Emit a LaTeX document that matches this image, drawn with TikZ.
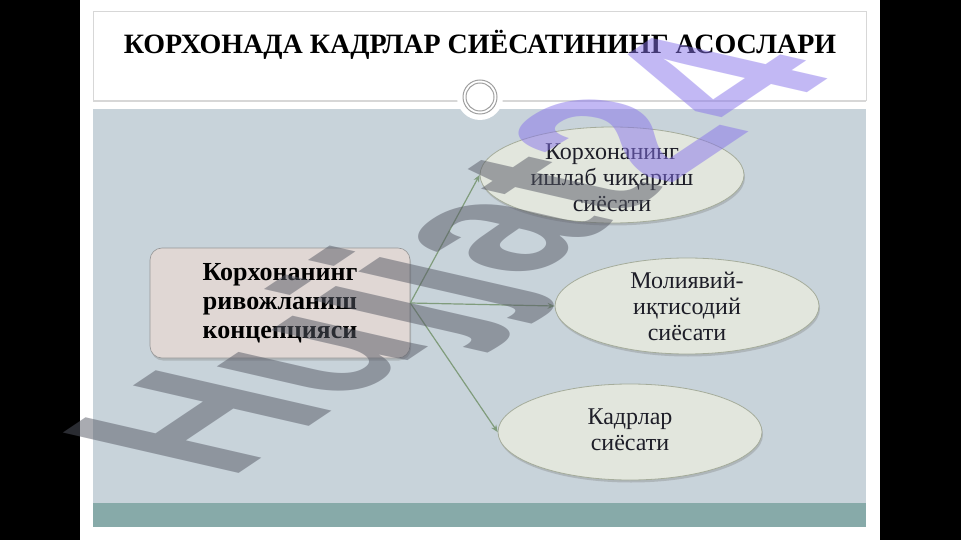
\documentclass[tikz,border=0pt]{standalone}
\usepackage{fontspec}
\setmainfont{Liberation Serif}
\newfontfamily\wmfont{Liberation Sans}
\usetikzlibrary{shapes.geometric,shadows,arrows.meta}
\definecolor{panelc}{RGB}{200,211,218}
\definecolor{tealbar}{RGB}{135,170,169}
\definecolor{framegray}{RGB}{215,215,215}
\definecolor{boxfill}{RGB}{224,215,212}
\definecolor{boxborder}{RGB}{150,150,150}
\definecolor{ellfill}{RGB}{226,230,221}
\definecolor{ellborder}{RGB}{165,172,155}
\definecolor{arrowgreen}{RGB}{128,156,124}
\definecolor{txtdark}{RGB}{30,30,40}
\definecolor{wmgray}{RGB}{85,88,100}
\definecolor{wmpurple}{RGB}{135,115,235}
\tikzset{
  conceptbox/.style={draw=boxborder, line width=0.6pt, fill=boxfill, rounded corners=12pt,
    minimum width=260pt, minimum height=110pt, align=center, text=black,
    font=\bfseries\fontsize{26}{29}\selectfont,
    drop shadow={opacity=0.35, shadow xshift=1pt, shadow yshift=-2.5pt}},
  policyell/.style={ellipse, draw=ellborder, line width=0.8pt, fill=ellfill,
    minimum width=264pt, minimum height=96pt, inner sep=0pt,
    drop shadow={opacity=0.35, shadow xshift=1pt, shadow yshift=-2.5pt}},
  elltext/.style={align=center, text=txtdark, font=\fontsize{24}{26}\selectfont, inner sep=0pt},
  arr/.style={draw=arrowgreen, line width=1.2pt, -{Stealth[length=7pt,width=6pt]}},
}
\begin{document}
\begin{tikzpicture}[x=1pt,y=-1pt]
\useasboundingbox (0,0) rectangle (961,540);
\fill[black] (0,0) rectangle (961,540);
\fill[white] (80,0) rectangle (880,540);
% top frame
\draw[framegray, line width=1pt] (93,101) -- (93,12) -- (866,12) -- (866,101);
\draw[framegray, line width=1.5pt] (93,101) -- (866,101);
% panel and bottom bar
\fill[panelc] (93,109) rectangle (866,503);
\fill[tealbar] (93,503) rectangle (866,527);
% title
\node[font=\bfseries\fontsize{28}{30}\selectfont, text=black] (title) at (480,45) {КОРХОНАДА КАДРЛАР СИЁСАТИНИНГ АСОСЛАРИ};
% ornament circle
\node[circle, fill=white, minimum size=46pt, inner sep=0pt] (orn) at (480,97) {};
\draw[gray!75, line width=1pt] (orn.center) circle (17pt);
\draw[gray!75, line width=1pt] (orn.center) circle (14pt);
% nodes
\node[conceptbox] (concept) at (280,303) {Корхонанинг\\ривожланиш\\концепцияси};
\node[policyell] (e1) at (612,175) {};
\node[elltext] (e1t) at (612,178) {Корхонанинг\\ишлаб чиқариш\\сиёсати};
\node[policyell] (e2) at (687,306) {};
\node[elltext] (e2t) at (687,306) {Молиявий-\\иқтисодий\\сиёсати};
\node[policyell] (e3) at (630,432) {};
\node[elltext] (e3t) at (630,430) {Кадрлар\\сиёсати};
% connectors
\draw[arr] (concept.east) -- (e1.west);
\draw[arr] (concept.east) -- (e2.west);
\draw[arr] (concept.east) -- (e3.west);
% watermark
\begin{scope}[cm={1.58,1.06,-2.556,0.587,(228,481)}]
\node[anchor=base west, inner sep=0pt, transform shape, text opacity=0.5,
  font=\wmfont\bfseries\fontsize{100}{100}\selectfont] (wm) at (0,0)
  {\textcolor{wmgray}{Hujjat}\textcolor{wmpurple}{24}};
\end{scope}
\end{tikzpicture}
\end{document}
